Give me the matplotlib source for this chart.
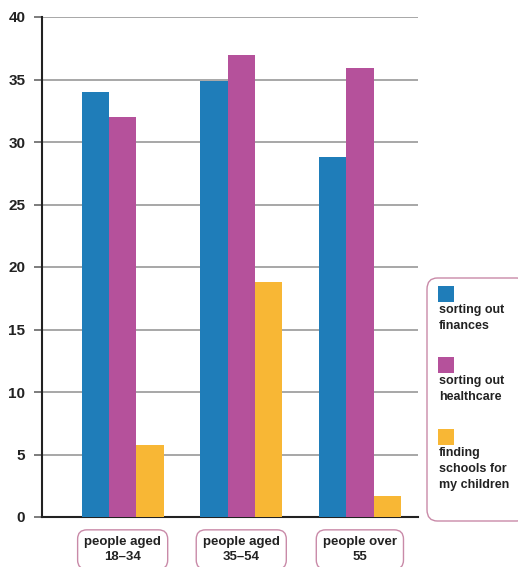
import matplotlib
matplotlib.use("Agg")
import matplotlib.pyplot as plt
import numpy as np
from matplotlib.patches import FancyBboxPatch, Rectangle

categories = ["people aged\n18–34", "people aged\n35–54", "people over\n55"]
series_names = ["sorting out\nfinances", "sorting out\nhealthcare", "finding\nschools for\nmy children"]
finances = [34.0, 34.9, 28.8]
healthcare = [32.0, 37.0, 35.9]
schools = [5.8, 18.8, 1.7]
yticks = [0, 5, 10, 15, 20, 25, 30, 35, 40]
colors = ["#1f7db9", "#b5519b", "#f8b735"]

plt.rcParams['font.family'] = ['Liberation Sans', 'DejaVu Sans']
fig = plt.figure(figsize=(5.18, 5.67), dpi=100)
ax = fig.add_axes([42/518, 1-517/567, (418-42)/518, 500/567])

x = np.arange(len(categories))
w = 0.23
for i, (vals, c) in enumerate(zip([finances, healthcare, schools], colors)):
    ax.bar(x + (i-1)*w, vals, width=w, color=c, zorder=3)

ax.set_ylim(0, 40)
ax.set_xlim(-0.68, 2.49)
ax.set_yticks(yticks)
ax.set_yticklabels([str(t) for t in yticks], fontsize=11, fontweight='bold', color='#222222')
ax.yaxis.grid(True, color='#a0a0a0', lw=1.3, zorder=0)
ax.set_axisbelow(True)
for s in ['top', 'right']:
    ax.spines[s].set_visible(False)
ax.spines['left'].set_linewidth(1.5)
ax.spines['bottom'].set_linewidth(1.5)
ax.spines['left'].set_color('#222222')
ax.spines['bottom'].set_color('#222222')
ax.tick_params(axis='y', length=6, width=1.2, color='#666666', pad=6)
ax.set_xticks(x)
ax.set_xticklabels(categories, fontsize=9.5, fontweight='bold', color='#222222', linespacing=1.25)
ax.tick_params(axis='x', length=0, pad=14)
for lab in ax.get_xticklabels():
    lab.set_bbox(dict(boxstyle='round,pad=0.5,rounding_size=0.7', fc='white', ec='#c98aa8', lw=1.0))

# legend box
W, H = 518, 567
fig.patches.append(FancyBboxPatch((427/W, 1-521/H), 100/W, (521-278)/H,
                                  boxstyle='round,pad=0,rounding_size=0.02',
                                  transform=fig.transFigure, fc='white', ec='#c98aa8', lw=1.0))
sq_tops = [286, 357, 429]
for top, c, name in zip(sq_tops, colors, series_names):
    fig.patches.append(Rectangle((438/W, 1-(top+16)/H), 16/W, 16/H, transform=fig.transFigure,
                                 fc=c, ec='none'))
    fig.text(439/W, 1-(top+18)/H, name, fontsize=9, fontweight='bold', color='#222222',
             va='top', ha='left', linespacing=1.45)

fig.savefig("out.png", dpi=100)
